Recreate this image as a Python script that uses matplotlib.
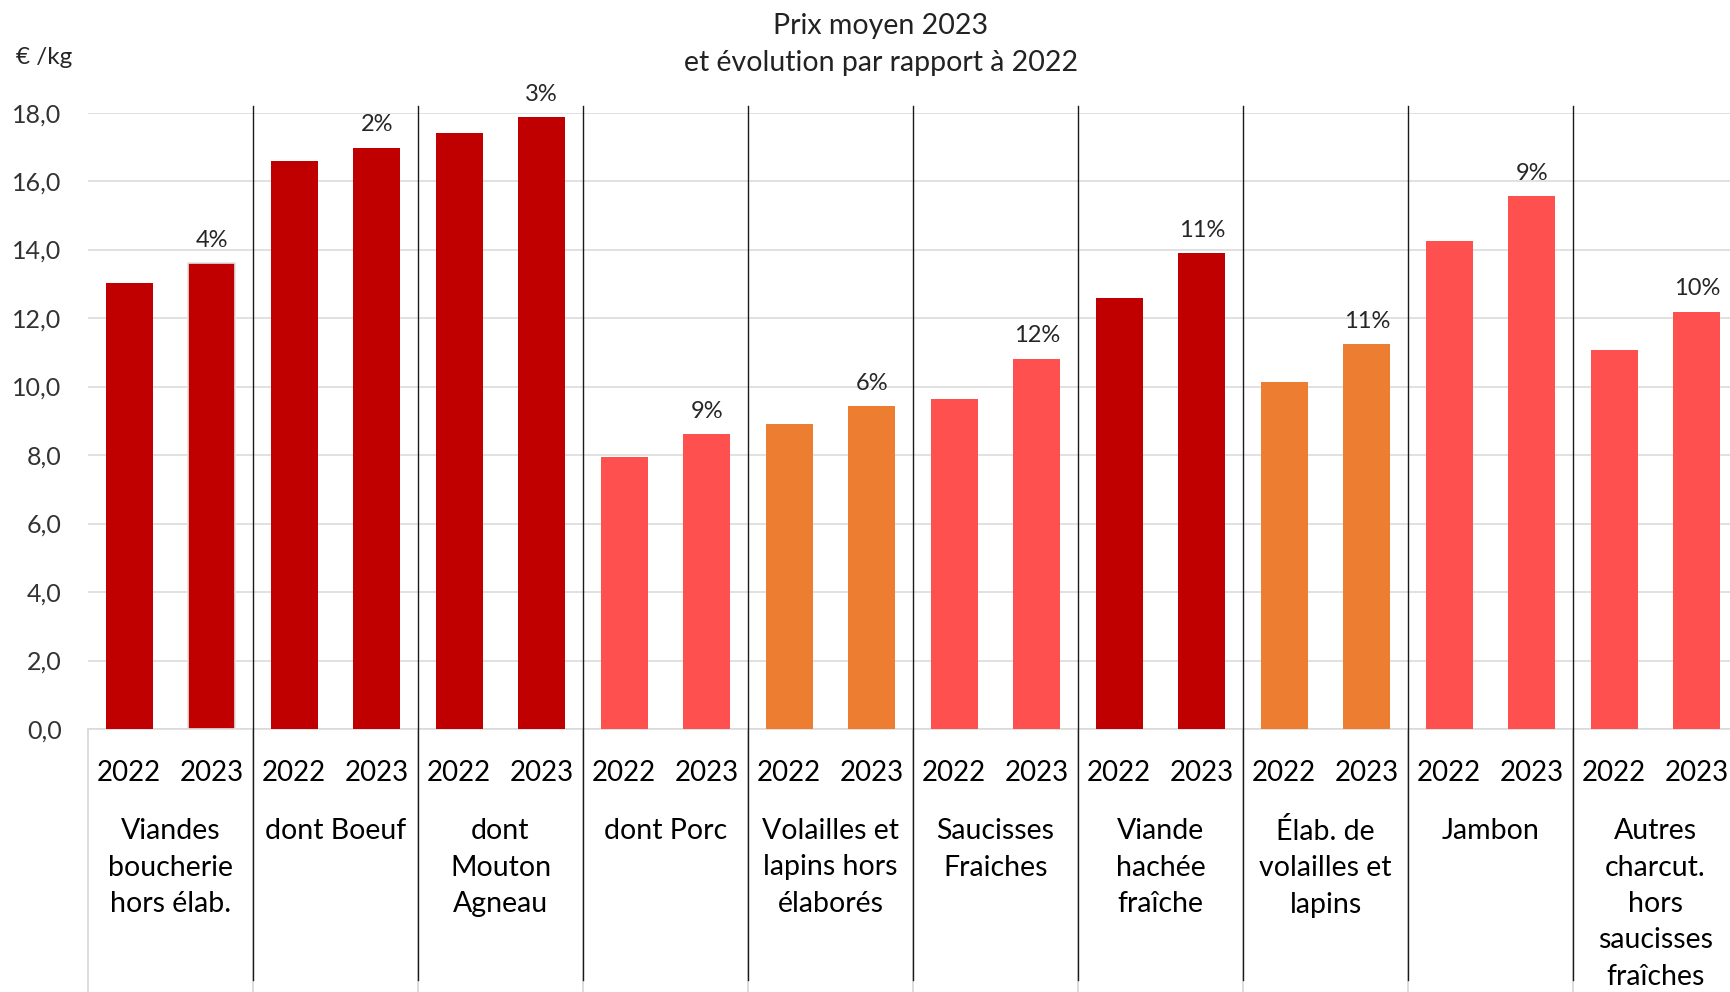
import matplotlib
matplotlib.use("Agg")
import matplotlib.pyplot as plt
from matplotlib.transforms import blended_transform_factory
from matplotlib.lines import Line2D

plt.rcParams['font.family'] = ['Lato', 'DejaVu Sans']

# Data
categories = [
    "Viandes\nboucherie\nhors élab.",
    "dont Boeuf",
    "dont\nMouton\nAgneau",
    "dont Porc",
    "Volailles et\nlapins hors\nélaborés",
    "Saucisses\nFraiches",
    "Viande\nhachée\nfraîche",
    "Élab. de\nvolailles et\nlapins",
    "Jambon",
    "Autres\ncharcut.\nhors\nsaucisses\nfraîches",
]
years = ["2022", "2023"]
prix_2022 = [13.03, 16.58, 17.39, 7.94, 8.90, 9.65, 12.58, 10.13, 14.26, 11.06]
prix_2023 = [13.60, 16.97, 17.87, 8.61, 9.42, 10.81, 13.90, 11.23, 15.55, 12.19]
evolution = ["4%", "2%", "3%", "9%", "6%", "12%", "11%", "11%", "9%", "10%"]
colors = ["#C00000", "#C00000", "#C00000", "#FF5050", "#ED7D31",
          "#FF5050", "#C00000", "#ED7D31", "#FF5050", "#FF5050"]
yticks = [0, 2, 4, 6, 8, 10, 12, 14, 16, 18]

W, H = 1731, 992
fig = plt.figure(figsize=(W / 100, H / 100), dpi=100)
left, slot, top, bottom = 88, 82.5, 112.6, 729
n = len(categories)
right = left + 2 * n * slot
ax = fig.add_axes([left / W, 1 - bottom / H, (right - left) / W, (bottom - top) / H])

grid_c = "#D9D9D9"
bar_w = 0.575
for i in range(n):
    x0, x1 = 2 * i, 2 * i + 1
    ax.bar(x0, prix_2022[i], width=bar_w, color=colors[i], zorder=3)
    ax.bar(x1, prix_2023[i], width=bar_w, color=colors[i], zorder=3,
           edgecolor=("#E3E3E3" if i == 0 else colors[i]), linewidth=(1.2 if i == 0 else 0))
    ax.annotate(evolution[i], (x1, prix_2023[i]), xytext=(0, 9),
                textcoords="offset points", ha="center", va="bottom",
                fontsize=17, color="#262626", annotation_clip=False)

ax.set_xlim(-0.5, 2 * n - 0.5)
ax.set_ylim(0, 18)
ax.set_yticks(yticks)
ax.set_yticklabels([f"{v:.1f}".replace(".", ",") for v in yticks],
                   fontsize=18, color="#333333")
ax.tick_params(axis="y", length=0, pad=19)
ax.set_xticks([])
ax.grid(axis="y", color=grid_c, linewidth=1.1, zorder=0)
for s in ["top", "right", "left"]:
    ax.spines[s].set_visible(False)
ax.spines["bottom"].set_color(grid_c)
ax.spines["bottom"].set_linewidth(1.1)

# Multi-level category axis
trans = blended_transform_factory(ax.transData, fig.transFigure)
for i in range(n):
    for j, yr in enumerate(years):
        ax.text(2 * i + j, 1 - 773 / H, yr, transform=trans, ha="center",
                va="center", fontsize=20, color="black")
    ax.text(2 * i + 0.5, 1 - 818 / H, categories[i], transform=trans,
            ha="center", va="top", fontsize=20.5, color="black",
            linespacing=1.5)

# Light boxes below the axis
for k in range(n + 1):
    xb = 2 * k - 0.5
    fig.add_artist(Line2D([xb, xb], [1 - bottom / H, 0], transform=trans,
                          color=grid_c, linewidth=1.3))

# Dark separators between groups
for k in range(1, n):
    xb = 2 * k - 0.5
    fig.add_artist(Line2D([xb, xb], [1 - 106 / H, 1 - 980 / H], transform=trans,
                          color="#1a1a1a", linewidth=1.0, zorder=5))

fig.text(881 / W, 1 - 26 / H, "Prix moyen 2023", ha="center", va="center",
         fontsize=20.5, color="#222222")
fig.text(881 / W, 1 - 63 / H, "et évolution par rapport à 2022", ha="center",
         va="center", fontsize=20.5, color="#222222")
fig.text(16 / W, 1 - 57 / H, "€ /kg", ha="left", va="center",
         fontsize=17.5, color="#262626")

fig.savefig("out.png", dpi=100)
